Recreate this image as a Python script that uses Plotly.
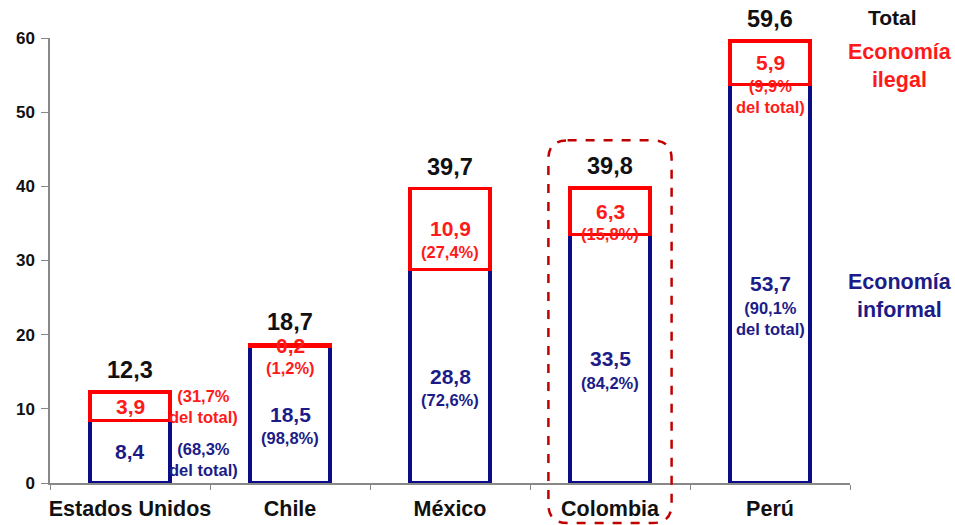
import plotly.graph_objects as go

categories = ["Estados Unidos", "Chile", "México", "Colombia", "Perú"]
informal = [8.4, 18.5, 28.8, 33.5, 53.7]
ilegal = [3.9, 0.2, 10.9, 6.3, 5.9]
total = [12.3, 18.7, 39.7, 39.8, 59.6]
informal_lbl = ["8,4", "18,5", "28,8", "33,5", "53,7"]
ilegal_lbl = ["3,9", "0,2", "10,9", "6,3", "5,9"]
total_lbl = ["12,3", "18,7", "39,7", "39,8", "59,6"]
informal_pct = ["(68,3%<br>del total)", "(98,8%)", "(72,6%)", "(84,2%)", "(90,1%<br>del total)"]
ilegal_pct = ["(31,7%<br>del total)", "(1,2%)", "(27,4%)", "(15,8%)", "(9,9%<br>del total)"]
highlight = "Colombia"

NAVY = "#0c0c88"
NAVY_T = "#1c1c88"
RED = "#ff0000"
RED_T = "#ff1a1a"
FONT = "Arial, Liberation Sans, sans-serif"

W, H = 955, 525
L, R, T, B = 50, 105, 38, 42
YMAX = 60
PW, PH = W - L - R, H - T - B

fig = go.Figure()
fig.add_trace(go.Bar(x=categories, y=informal, width=0.5,
                     marker=dict(color="white", line=dict(color=NAVY, width=3.5)),
                     hoverinfo="skip"))
fig.add_trace(go.Bar(x=categories, y=ilegal, width=0.5,
                     marker=dict(color="white", line=dict(color=RED, width=3.5)),
                     hoverinfo="skip"))

VAL = 21
PCT = 16.5
ann = []
for i, c in enumerate(categories):
    ann.append(dict(x=c, y=total[i], text=total_lbl[i], showarrow=False, yanchor="bottom",
                    yshift=7, font=dict(family=FONT, size=23.5, color="#111", weight="bold")))
    yi = informal[i] / 2
    ann.append(dict(x=c, y=yi, text=informal_lbl[i], showarrow=False, yanchor="middle",
                    font=dict(family=FONT, size=VAL, color=NAVY_T, weight="bold")))
    yl = informal[i] + ilegal[i] / 2
    ann.append(dict(x=c, y=yl, text=ilegal_lbl[i], showarrow=False, yanchor="middle",
                    font=dict(family=FONT, size=VAL, color=RED_T, weight="bold")))
    if i == 0:
        ann.append(dict(x=c, y=yl, text=ilegal_pct[i], showarrow=False, yanchor="middle",
                        xshift=73, font=dict(family=FONT, size=PCT, color=RED_T, weight="bold")))
        ann.append(dict(x=c, y=yi, text=informal_pct[i], showarrow=False, yanchor="middle",
                        xshift=73, yshift=-8,
                        font=dict(family=FONT, size=PCT, color=NAVY_T, weight="bold")))
    else:
        ann.append(dict(x=c, y=yl, text=ilegal_pct[i], showarrow=False, yanchor="top",
                        yshift=-12, font=dict(family=FONT, size=PCT, color=RED_T, weight="bold")))
        ann.append(dict(x=c, y=yi, text=informal_pct[i], showarrow=False, yanchor="top",
                        yshift=-13, font=dict(family=FONT, size=PCT, color=NAVY_T, weight="bold")))

def px_x(p):
    return (p - L) / PW

def px_y(p):
    return (H - B - p) / PH

ann.append(dict(xref="paper", yref="paper", x=px_x(892), y=px_y(18), text="Total",
                showarrow=False, xanchor="center", yanchor="middle",
                font=dict(family=FONT, size=21, color="#111", weight="bold")))
ann.append(dict(xref="paper", yref="paper", x=px_x(900), y=px_y(66),
                text="Economía<br>ilegal", showarrow=False, xanchor="center", yanchor="middle",
                font=dict(family=FONT, size=21.5, color=RED_T, weight="bold")))
ann.append(dict(xref="paper", yref="paper", x=px_x(900), y=px_y(296),
                text="Economía<br>informal", showarrow=False, xanchor="center", yanchor="middle",
                font=dict(family=FONT, size=21.5, color=NAVY_T, weight="bold")))

n = len(categories)
k = categories.index(highlight)
cx = (k + 0.5) / n
x0, x1 = cx - 0.077, cx + 0.077
y1 = 46.2 / YMAX
y0 = -0.09
rx, ry = 0.024, 0.042
path = (f"M {x0+rx},{y1} L {x1-rx},{y1} Q {x1},{y1} {x1},{y1-ry} "
        f"L {x1},{y0+ry} Q {x1},{y0} {x1-rx},{y0} L {x0+rx},{y0} "
        f"Q {x0},{y0} {x0},{y0+ry} L {x0},{y1-ry} Q {x0},{y1} {x0+rx},{y1} Z")
shapes = [dict(type="path", xref="paper", yref="paper", path=path,
               line=dict(color="#c00000", width=2.5, dash="dash"), layer="above")]

fig.update_layout(
    barmode="stack", width=W, height=H,
    margin=dict(l=L, r=R, t=T, b=B),
    paper_bgcolor="white", plot_bgcolor="white",
    showlegend=False, annotations=ann, shapes=shapes,
    xaxis=dict(showline=True, linecolor="#888", linewidth=1.5, ticks="outside",
               tickson="boundaries", ticklen=5, tickcolor="#888", ticklabelstandoff=5,
               tickangle=0, automargin=False,
               tickfont=dict(family=FONT, size=21.5, color="#111", weight="bold"),
               showgrid=False, range=[-0.5, n - 0.5]),
    yaxis=dict(range=[0, YMAX], dtick=10, showline=True, linecolor="#888", linewidth=1.5,
               ticks="outside", ticklen=7, tickcolor="#888", showgrid=False, zeroline=False,
               ticklabelstandoff=3, automargin=False,
               tickfont=dict(family=FONT, size=17, color="#111", weight="bold")),
)

fig.write_html("out.html")
